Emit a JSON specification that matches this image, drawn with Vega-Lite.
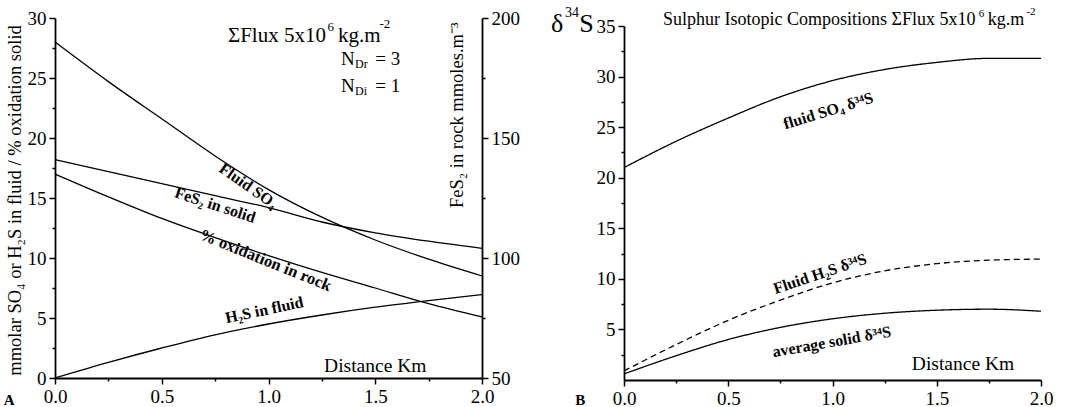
{
  "$schema": "https://vega.github.io/schema/vega-lite/v6.json",
  "background": "white",
  "padding": {"left": 3, "top": 5, "right": 0, "bottom": 4},
  "config": {
    "view": {"stroke": null},
    "font": "Liberation Serif",
    "axis": {"grid": false, "domainColor": "black", "domainWidth": 1.8, "tickColor": "black", "tickWidth": 1.5, "labelColor": "black", "labelFont": "Liberation Serif", "labelFontSize": 19, "titleFont": "Liberation Serif", "titleColor": "black", "titleFontWeight": "normal", "labelOverlap": false, "labelFlush": false},
    "text": {"color": "black", "font": "Liberation Serif"}
  },
  "spacing": 142,
  "bounds": "flush",
  "hconcat": [
    {
      "width": 427,
      "height": 360,
      "encoding": {
        "x": {"field": "x", "type": "quantitative", "scale": {"domain": [0, 2]},
          "axis": {"values": [0, 0.25, 0.5, 0.75, 1, 1.25, 1.5, 1.75, 2], "labelExpr": "datum.value % 0.5 === 0 ? format(datum.value, '.1f') : ''", "tickSize": {"condition": {"test": "datum.value % 0.5 !== 0", "value": 3}, "value": 6}, "labelPadding": 3, "title": null}}
      },
      "layer": [
        {
          "encoding": {
            "y": {"field": "v", "type": "quantitative", "scale": {"domain": [0, 30]},
              "axis": {"values": [0, 2.5, 5, 7.5, 10, 12.5, 15, 17.5, 20, 22.5, 25, 27.5, 30], "labelExpr": "datum.value % 5 === 0 ? format(datum.value, 'd') : ''", "tickSize": {"condition": {"test": "datum.value % 5 !== 0", "value": 3}, "value": 6}, "labelPadding": 3,
                "title": "mmolar SO₄ or H₂S in fluid / % oxidation solid", "titleFontSize": 18.5, "titleAngle": 270, "titleX": -35, "titleY": 182, "titleAlign": "center", "titleBaseline": "alphabetic"}}
          },
          "layer": [
            {
              "data": {"values": [
                {"series": "Fluid SO4", "x": 0, "v": 28.0}, {"series": "Fluid SO4", "x": 0.25, "v": 24.7}, {"series": "Fluid SO4", "x": 0.5, "v": 21.6}, {"series": "Fluid SO4", "x": 0.75, "v": 18.5}, {"series": "Fluid SO4", "x": 1.0, "v": 15.7}, {"series": "Fluid SO4", "x": 1.25, "v": 13.4}, {"series": "Fluid SO4", "x": 1.5, "v": 11.5}, {"series": "Fluid SO4", "x": 1.75, "v": 9.9}, {"series": "Fluid SO4", "x": 2.0, "v": 8.5},
                {"series": "% oxidation", "x": 0, "v": 17.0}, {"series": "% oxidation", "x": 0.25, "v": 15.1}, {"series": "% oxidation", "x": 0.5, "v": 13.3}, {"series": "% oxidation", "x": 0.75, "v": 11.7}, {"series": "% oxidation", "x": 1.0, "v": 10.2}, {"series": "% oxidation", "x": 1.25, "v": 8.8}, {"series": "% oxidation", "x": 1.5, "v": 7.5}, {"series": "% oxidation", "x": 1.75, "v": 6.2}, {"series": "% oxidation", "x": 2.0, "v": 5.1},
                {"series": "H2S", "x": 0, "v": 0}, {"series": "H2S", "x": 0.25, "v": 1.3}, {"series": "H2S", "x": 0.5, "v": 2.5}, {"series": "H2S", "x": 0.75, "v": 3.6}, {"series": "H2S", "x": 1.0, "v": 4.5}, {"series": "H2S", "x": 1.25, "v": 5.25}, {"series": "H2S", "x": 1.5, "v": 5.9}, {"series": "H2S", "x": 1.75, "v": 6.45}, {"series": "H2S", "x": 2.0, "v": 6.95}
              ]},
              "mark": {"type": "line", "interpolate": "monotone", "color": "black", "strokeWidth": 1.3},
              "encoding": {"detail": {"field": "series"}}
            },
            {
              "data": {"values": [{"label": "ΣFlux 5x10", "x": 0.81, "v": 28.0}, {"label": "kg.m", "x": 1.325, "v": 28.0}]},
              "mark": {"type": "text", "fontSize": 21, "align": "left", "baseline": "alphabetic"},
              "encoding": {"text": {"field": "label"}}
            },
            {
              "data": {"values": [{"label": "6", "x": 1.276, "v": 28.95}, {"label": "-2", "x": 1.52, "v": 29.2}]},
              "mark": {"type": "text", "fontSize": 13, "align": "left", "baseline": "alphabetic"},
              "encoding": {"text": {"field": "label"}}
            },
            {
              "data": {"values": [{"label": "N", "x": 1.34, "v": 26.1}, {"label": "= 3", "x": 1.5, "v": 26.1}, {"label": "N", "x": 1.34, "v": 23.8}, {"label": "= 1", "x": 1.5, "v": 23.8}]},
              "mark": {"type": "text", "fontSize": 19, "align": "left", "baseline": "alphabetic"},
              "encoding": {"text": {"field": "label"}}
            },
            {
              "data": {"values": [{"label": "Dr", "x": 1.405, "v": 25.85}, {"label": "Di", "x": 1.405, "v": 23.55}]},
              "mark": {"type": "text", "fontSize": 12, "align": "left", "baseline": "alphabetic"},
              "encoding": {"text": {"field": "label"}}
            },
            {
              "data": {"values": [{"label": "Fluid SO₄", "x": 0.905, "v": 16.0}]},
              "mark": {"type": "text", "fontSize": 16, "fontWeight": "bold", "angle": 35, "align": "center", "baseline": "middle"},
              "encoding": {"text": {"field": "label"}}
            },
            {
              "data": {"values": [{"label": "FeS₂ in solid", "x": 0.75, "v": 14.4}]},
              "mark": {"type": "text", "fontSize": 16, "fontWeight": "bold", "angle": 18, "align": "center", "baseline": "middle"},
              "encoding": {"text": {"field": "label"}}
            },
            {
              "data": {"values": [{"label": "% oxidation in rock", "x": 0.986, "v": 9.8}]},
              "mark": {"type": "text", "fontSize": 16.5, "fontWeight": "bold", "angle": 22, "align": "center", "baseline": "middle"},
              "encoding": {"text": {"field": "label"}}
            },
            {
              "data": {"values": [{"label": "H₂S in fluid", "x": 0.98, "v": 5.65}]},
              "mark": {"type": "text", "fontSize": 16, "fontWeight": "bold", "angle": -12, "align": "center", "baseline": "middle"},
              "encoding": {"text": {"field": "label"}}
            },
            {
              "data": {"values": [{"label": "Distance Km", "x": 1.5, "v": 0.5}]},
              "mark": {"type": "text", "fontSize": 19.5, "align": "center", "baseline": "alphabetic"},
              "encoding": {"text": {"field": "label"}}
            },
            {
              "data": {"values": [{"label": "A", "x": -0.215, "v": -2.28}]},
              "mark": {"type": "text", "fontSize": 15, "fontWeight": "bold", "align": "center", "baseline": "alphabetic"},
              "encoding": {"text": {"field": "label"}}
            }
          ]
        },
        {
          "data": {"values": [
            {"x": 0, "v": 141}, {"x": 0.25, "v": 136}, {"x": 0.5, "v": 131}, {"x": 0.75, "v": 126}, {"x": 1.0, "v": 121}, {"x": 1.25, "v": 115}, {"x": 1.5, "v": 110.5}, {"x": 1.75, "v": 107}, {"x": 2.0, "v": 104}
          ]},
          "mark": {"type": "line", "interpolate": "monotone", "color": "black", "strokeWidth": 1.3},
          "encoding": {
            "y": {"field": "v", "type": "quantitative", "scale": {"domain": [50, 200]},
              "axis": {"orient": "right", "values": [50, 75, 100, 125, 150, 175, 200], "labelExpr": "datum.value % 50 === 0 ? format(datum.value, 'd') : ''", "tickSize": {"condition": {"test": "datum.value % 50 !== 0", "value": 3}, "value": 6}, "labelPadding": 3,
                "title": "FeS₂ in rock mmoles.m⁻³", "titleFontSize": 18.5, "titleAngle": 270, "titleX": -20, "titleY": 4, "titleAlign": "right", "titleBaseline": "alphabetic"}}
          }
        }
      ],
      "resolve": {"scale": {"y": "independent"}}
    },
    {
      "width": 417,
      "height": 362,
      "encoding": {
        "x": {"field": "x", "type": "quantitative", "scale": {"domain": [0, 2]},
          "axis": {"values": [0, 0.25, 0.5, 0.75, 1, 1.25, 1.5, 1.75, 2], "labelExpr": "datum.value % 0.5 === 0 ? format(datum.value, '.1f') : ''", "tickSize": {"condition": {"test": "datum.value % 0.5 !== 0", "value": 3}, "value": 6}, "labelPadding": 3, "title": null}},
        "y": {"field": "v", "type": "quantitative", "scale": {"domain": [0, 35], "range": [362, 8]},
          "axis": {"values": [2.5, 5, 7.5, 10, 12.5, 15, 17.5, 20, 22.5, 25, 27.5, 30, 32.5, 35], "labelExpr": "datum.value % 5 === 0 ? format(datum.value, 'd') : ''", "tickSize": {"condition": {"test": "datum.value % 5 !== 0", "value": 3}, "value": 6}, "labelPadding": 3, "title": null}}
      },
      "layer": [
        {
          "data": {"values": [
            {"series": "fluid SO4", "x": 0, "v": 21.0}, {"series": "fluid SO4", "x": 0.25, "v": 23.6}, {"series": "fluid SO4", "x": 0.5, "v": 25.9}, {"series": "fluid SO4", "x": 0.75, "v": 28.0}, {"series": "fluid SO4", "x": 1.0, "v": 29.6}, {"series": "fluid SO4", "x": 1.25, "v": 30.7}, {"series": "fluid SO4", "x": 1.5, "v": 31.4}, {"series": "fluid SO4", "x": 1.75, "v": 31.8}, {"series": "fluid SO4", "x": 2.0, "v": 31.8},
            {"series": "Fluid H2S", "x": 0, "v": 0.9}, {"series": "Fluid H2S", "x": 0.25, "v": 3.5}, {"series": "Fluid H2S", "x": 0.5, "v": 5.9}, {"series": "Fluid H2S", "x": 0.75, "v": 7.9}, {"series": "Fluid H2S", "x": 1.0, "v": 9.6}, {"series": "Fluid H2S", "x": 1.25, "v": 10.8}, {"series": "Fluid H2S", "x": 1.5, "v": 11.5}, {"series": "Fluid H2S", "x": 1.75, "v": 11.85}, {"series": "Fluid H2S", "x": 2.0, "v": 11.95},
            {"series": "average solid", "x": 0, "v": 0.6}, {"series": "average solid", "x": 0.25, "v": 2.4}, {"series": "average solid", "x": 0.5, "v": 4.0}, {"series": "average solid", "x": 0.75, "v": 5.2}, {"series": "average solid", "x": 1.0, "v": 6.05}, {"series": "average solid", "x": 1.25, "v": 6.6}, {"series": "average solid", "x": 1.5, "v": 6.9}, {"series": "average solid", "x": 1.75, "v": 7.0}, {"series": "average solid", "x": 2.0, "v": 6.8}
          ]},
          "mark": {"type": "line", "interpolate": "monotone", "color": "black", "strokeWidth": 1.3},
          "encoding": {
            "detail": {"field": "series"},
            "strokeDash": {"field": "series", "scale": {"domain": ["fluid SO4", "Fluid H2S", "average solid"], "range": [[1, 0], [6, 4], [1, 0]]}, "legend": null}
          }
        },
        {
          "data": {"values": [{"label": "Sulphur Isotopic Compositions  ΣFlux 5x10", "x": 0.187, "v": 35.1}, {"label": "kg.m", "x": 1.745, "v": 35.1}]},
          "mark": {"type": "text", "fontSize": 18, "align": "left", "baseline": "alphabetic"},
          "encoding": {"text": {"field": "label"}}
        },
        {
          "data": {"values": [{"label": "6", "x": 1.702, "v": 35.9}, {"label": "-2", "x": 1.93, "v": 36.1}]},
          "mark": {"type": "text", "fontSize": 11, "align": "left", "baseline": "alphabetic"},
          "encoding": {"text": {"field": "label"}}
        },
        {
          "data": {"values": [{"label": "δ", "x": -0.35, "v": 34.4}, {"label": "S", "x": -0.215, "v": 34.4}]},
          "mark": {"type": "text", "fontSize": 26, "align": "left", "baseline": "alphabetic"},
          "encoding": {"text": {"field": "label"}}
        },
        {
          "data": {"values": [{"label": "34", "x": -0.283, "v": 35.9}]},
          "mark": {"type": "text", "fontSize": 14, "align": "left", "baseline": "alphabetic"},
          "encoding": {"text": {"field": "label"}}
        },
        {
          "data": {"values": [{"label": "fluid SO₄ δ³⁴S", "x": 0.98, "v": 26.6}]},
          "mark": {"type": "text", "fontSize": 16, "fontWeight": "bold", "angle": -17, "align": "center", "baseline": "middle"},
          "encoding": {"text": {"field": "label"}}
        },
        {
          "data": {"values": [{"label": "Fluid H₂S δ³⁴S", "x": 0.94, "v": 10.5}]},
          "mark": {"type": "text", "fontSize": 16, "fontWeight": "bold", "angle": -18.5, "align": "center", "baseline": "middle"},
          "encoding": {"text": {"field": "label"}}
        },
        {
          "data": {"values": [{"label": "average solid δ³⁴S", "x": 0.996, "v": 3.76}]},
          "mark": {"type": "text", "fontSize": 16, "fontWeight": "bold", "angle": -10, "align": "center", "baseline": "middle"},
          "encoding": {"text": {"field": "label"}}
        },
        {
          "data": {"values": [{"label": "Distance Km", "x": 1.626, "v": 0.96}]},
          "mark": {"type": "text", "fontSize": 19.5, "align": "center", "baseline": "alphabetic"},
          "encoding": {"text": {"field": "label"}}
        },
        {
          "data": {"values": [{"label": "B", "x": -0.21, "v": -2.48}]},
          "mark": {"type": "text", "fontSize": 15, "fontWeight": "bold", "align": "center", "baseline": "alphabetic"},
          "encoding": {"text": {"field": "label"}}
        }
      ]
    }
  ]
}
